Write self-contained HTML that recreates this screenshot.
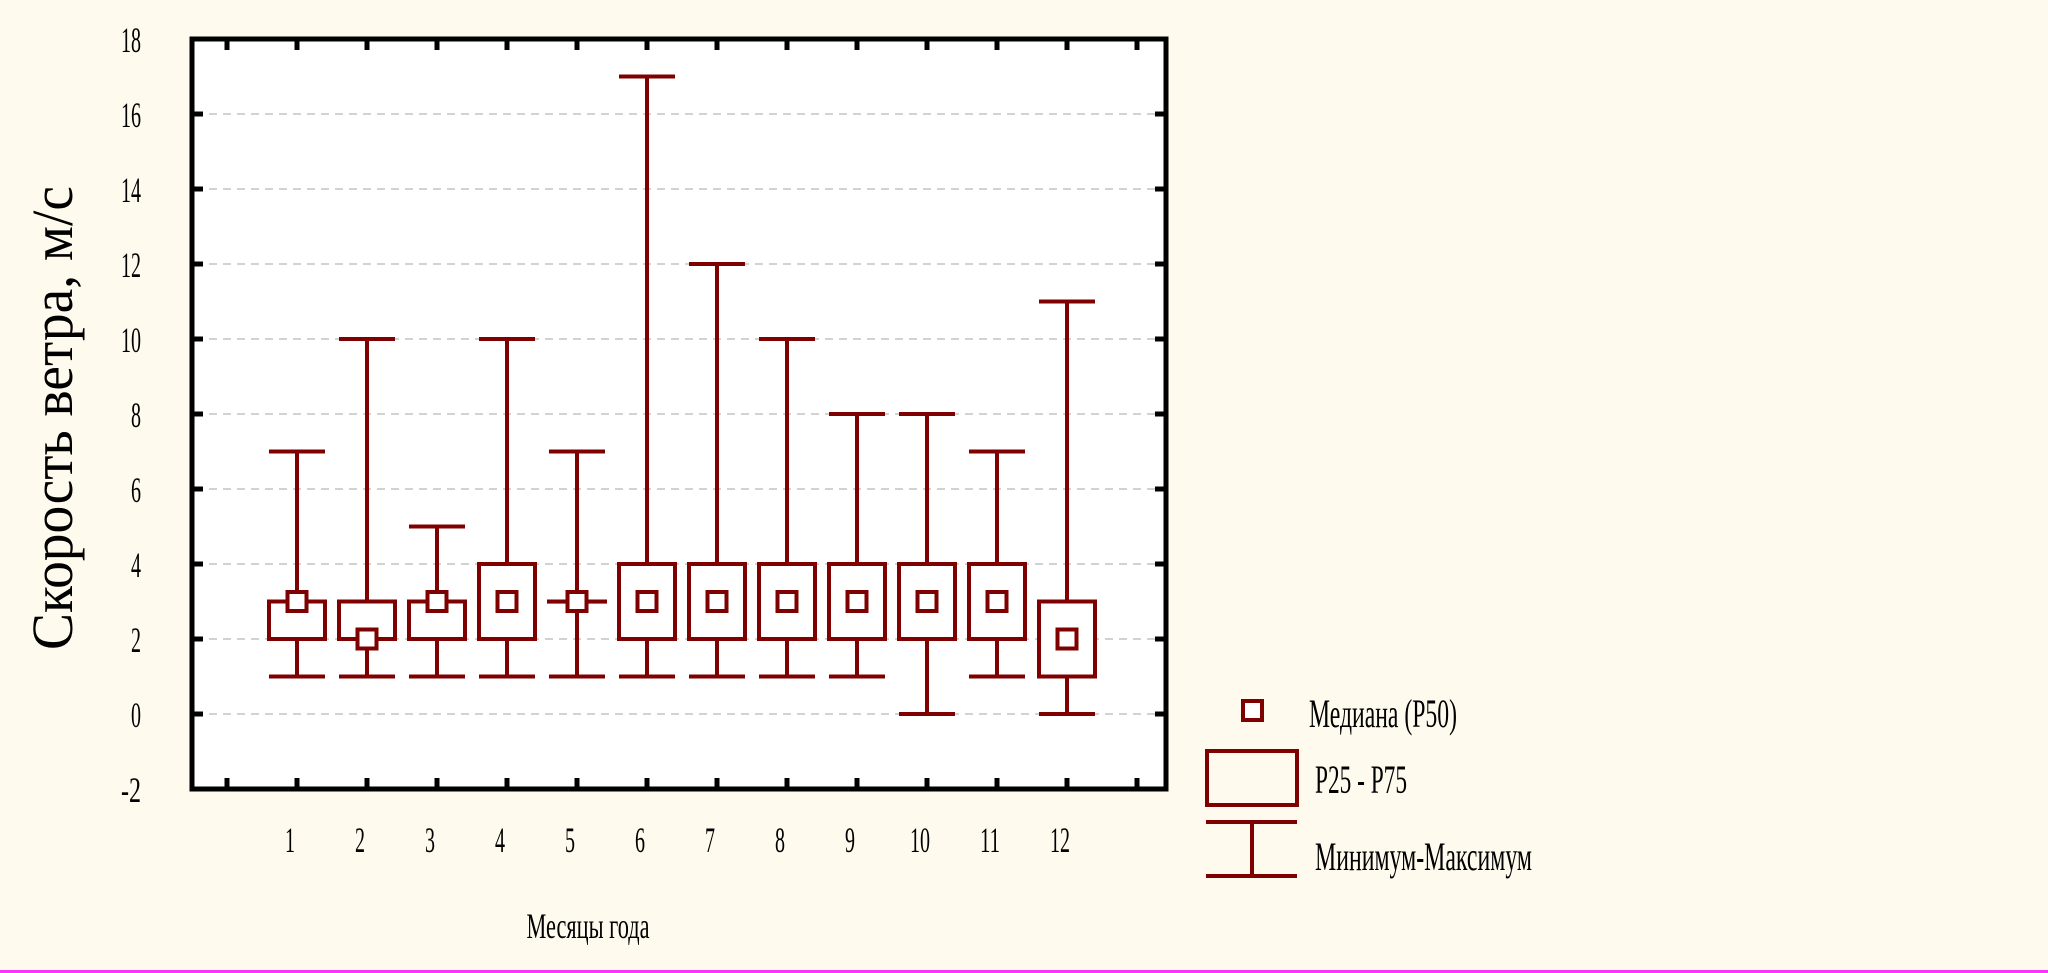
<!DOCTYPE html>
<html><head><meta charset="utf-8"><style>
html,body{margin:0;padding:0;background:#fffaee;}
svg{display:block;}
text{font-family:"Liberation Serif",serif;fill:#000;}
</style></head><body>
<svg id="chart" width="2048" height="973" viewBox="0 0 2048 973" xmlns="http://www.w3.org/2000/svg">
<rect x="0" y="0" width="2048" height="973" fill="#fffaee"/>
<rect x="192" y="39" width="974" height="750" fill="#ffffff"/>
<g id="grid"></g>
<g id="axes"></g>
<g id="marks"></g>
<rect x="192" y="39" width="974" height="750" fill="none" stroke="#000" stroke-width="5"/>
<text x="0" y="0" font-size="58" text-anchor="middle" transform="translate(72,418) rotate(-90)" textLength="464" lengthAdjust="spacingAndGlyphs">Скорость ветра, м/с</text>
<text x="588" y="938" font-size="36" text-anchor="middle" textLength="123" lengthAdjust="spacingAndGlyphs">Месяцы года</text>
<g>
<rect x="1243" y="701" width="19" height="19" fill="#fff" stroke="#7f0000" stroke-width="4"/>
<text x="1309" y="727" font-size="40" textLength="148" lengthAdjust="spacingAndGlyphs">Медиана (P50)</text>
<rect x="1207" y="751" width="90" height="54" fill="none" stroke="#7f0000" stroke-width="4"/>
<text x="1315" y="793" font-size="40" textLength="92" lengthAdjust="spacingAndGlyphs">P25 - P75</text>
<g stroke="#7f0000" stroke-width="4">
<line x1="1206" y1="822" x2="1297" y2="822"/><line x1="1252" y1="822" x2="1252" y2="876"/><line x1="1206" y1="876" x2="1297" y2="876"/></g>
<text x="1315" y="870" font-size="40" textLength="217" lengthAdjust="spacingAndGlyphs">Минимум-Максимум</text>
</g>
<rect x="0" y="970" width="2048" height="3" fill="#ff33ff"/>
</svg>
<script>
const months = ["1","2","3","4","5","6","7","8","9","10","11","12"];
const minVals = [1,1,1,1,1,1,1,1,1,0,1,0];
const q1Vals = [2,2,2,2,3,2,2,2,2,2,2,1];
const medVals = [3,2,3,3,3,3,3,3,3,3,3,2];
const q3Vals = [3,3,3,4,3,4,4,4,4,4,4,3];
const maxVals = [7,10,5,10,7,17,12,10,8,8,7,11];
const yTicks = [-2,0,2,4,6,8,10,12,14,16,18];
const NS="http://www.w3.org/2000/svg";
function y(v){return 714-v*37.5;}
function x(i){return 227+i*70;}
function mk(tag,attrs,parent){const e=document.createElementNS(NS,tag);for(const k in attrs)e.setAttribute(k,attrs[k]);parent.appendChild(e);return e;}
const grid=document.getElementById('grid'),axes=document.getElementById('axes'),marks=document.getElementById('marks');
const C="#7f0000";
yTicks.forEach(t=>{
  if(t>-2&&t<18){const g=mk('line',{x1:195,x2:1163,y1:y(t),y2:y(t),stroke:'#c4c4c4','stroke-width':1.5,'stroke-dasharray':'8,6'},grid);
  
  }
  const tk=mk('line',{x1:192,x2:203,y1:y(t),y2:y(t),stroke:'#000','stroke-width':5},axes);
  
  
  const tr=mk('line',{x1:1155,x2:1166,y1:y(t),y2:y(t),stroke:'#000','stroke-width':5},axes);
  
  
  const s=String(t);
  const tx=mk('text',{x:141,y:y(t)+13,'font-size':36,'text-anchor':'end',textLength:s.length*10,lengthAdjust:'spacingAndGlyphs'},axes);
  tx.textContent=s;
  
  
});
for(let i=0;i<=13;i++){
  const b=mk('line',{x1:x(i),x2:x(i),y1:778,y2:789,stroke:'#000','stroke-width':5},axes);
  
  
  const t=mk('line',{x1:x(i),x2:x(i),y1:39,y2:50,stroke:'#000','stroke-width':5},axes);
  
  
}
months.forEach((m,i)=>{
  const cx=x(i+1);
  const g=mk('g',{},marks);
  
  
  const st={stroke:C,'stroke-width':4,fill:'none'};
  mk('line',Object.assign({x1:cx,x2:cx,y1:y(maxVals[i]),y2:y(minVals[i])},st),g);
  mk('line',Object.assign({x1:cx-28,x2:cx+28,y1:y(maxVals[i]),y2:y(maxVals[i])},st),g);
  mk('line',Object.assign({x1:cx-28,x2:cx+28,y1:y(minVals[i]),y2:y(minVals[i])},st),g);
  mk('rect',{x:cx-28,y:y(q3Vals[i]),width:56,height:Math.max(0.1,y(q1Vals[i])-y(q3Vals[i])),fill:'#fff',stroke:C,'stroke-width':4},g);
  mk('rect',{x:cx-9.5,y:y(medVals[i])-9.5,width:19,height:19,fill:'#fff',stroke:C,'stroke-width':4},g);
  const lb=mk('text',{x:cx-7,y:852,'font-size':36,'text-anchor':'middle',textLength:m.length*10,lengthAdjust:'spacingAndGlyphs'},axes);
  lb.textContent=m;
  
  
});
</script>
</body></html>
